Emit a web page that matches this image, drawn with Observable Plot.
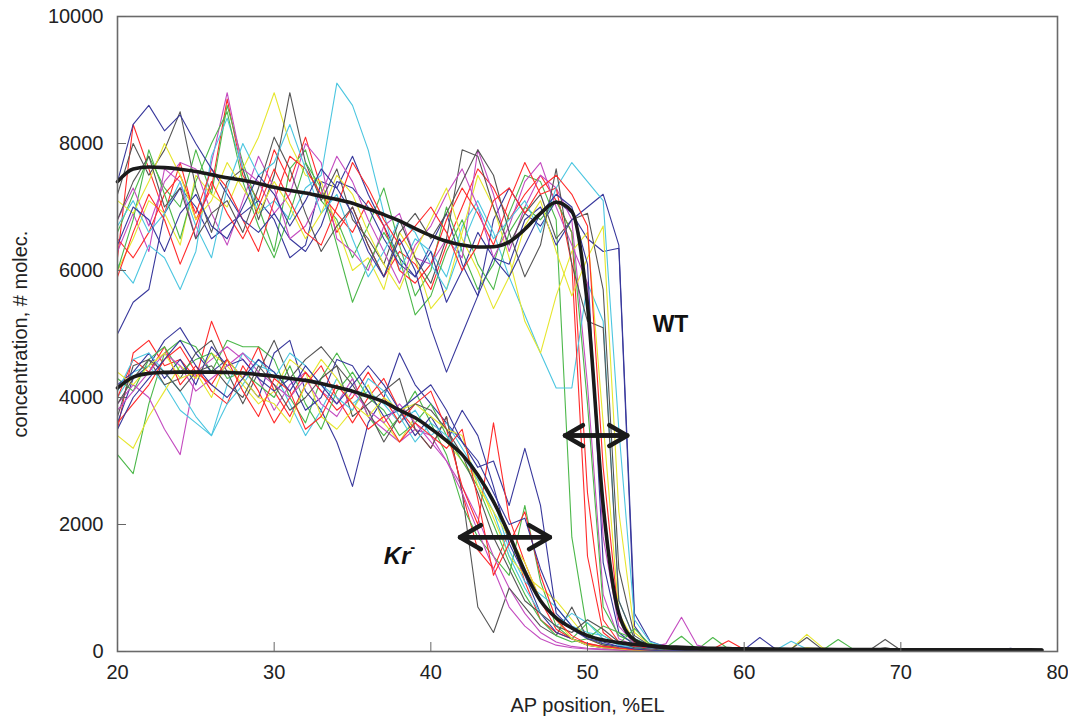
<!DOCTYPE html>
<html><head><meta charset="utf-8">
<script src="https://cdn.jsdelivr.net/npm/d3@7"></script>
<script src="https://cdn.jsdelivr.net/npm/@observablehq/plot@0.6"></script>
<style>body{margin:0;background:#fff;font-family:Arial,"Liberation Sans",sans-serif}</style>
</head><body><div id="chart"></div>
<script>
// AP positions (%EL), one sample per 1 %EL
const positions = [20,21,22,23,24,25,26,27,28,29,30,31,32,33,34,35,36,37,38,39,40,41,42,43,44,45,46,47,48,49,50,51,52,53,54,55,56,57,58,59,60,61,62,63,64,65,66,67,68,69,70,71,72,73,74,75,76,77,78,79];
const xTicks = [20,30,40,50,60,70,80];
const yTicks = [0,2000,4000,6000,8000,10000];
const palette = {red:"#ff2b2b", green:"#4cb84a", blue:"#38389c", magenta:"#c44cc0", cyan:"#4cc6e0", yellow:"#e6e62e", black:"#555555"};

// WT embryos
const wt01 = [6200,8300,7600,6900,7700,6800,7300,8700,7500,7100, 7900,7400,8100,7300,6600,7000,6400,5900,6300,6100, 5700,6400,7000,7600,7300,6800,7200,7500,7100,6600, 2500,500,150,80,40,30,60,20,30,30, 20,10,30,20,10,20,30,10,20,10, 20,10,30,10,20,10,20,10,20,10];
const wt02 = [6600,7200,7800,7300,7000,7900,7200,8600,7700,7000, 6300,7600,7900,7100,6800,6200,6700,7300,6400,5600, 6000,7000,6300,5700,6100,6900,7500,7400,6800,1800, 300,120,60,40,130,60,240,30,220,40, 30,20,10,20,30,20,190,30,10,20, 20,10,20,10,30,10,20,10,30,20];
const wt03 = [5000,5500,5700,6900,7300,7000,6500,6700,6900,7100, 6800,6200,6400,7400,7300,7800,7200,6700,6200,5900, 6400,6900,6100,5600,6800,7300,6900,6700,7100,6900, 6500,6300,6350,400,60,40,30,20,30,20, 30,220,40,20,10,20,10,30,20,10, 20,10,20,30,10,20,10,50,20,10];
const wt04 = [6300,6900,6300,7600,7400,6500,7700,8800,7600,7400, 6900,7200,8000,7700,6500,6300,6000,6700,6900,6200, 6100,6500,6200,7900,7200,6300,7000,7500,7300,6800, 4200,900,200,90,70,120,540,100,40,20, 10,20,30,10,20,10,20,30,10,20, 10,20,10,20,10,30,20,10,20,10];
const wt05 = [6100,5800,6400,6200,5700,6300,7800,8400,7600,6900, 7100,6800,7300,7500,8950,8600,7900,6900,6000,6500, 6300,5900,6700,7100,6600,5900,5300,4700,4150,4150, 5800,5200,800,200,110,60,40,30,20,30, 20,30,40,40,30,20,10,20,30,10, 20,10,20,10,30,20,10,20,10,20];
const wt06 = [6000,6500,7100,6900,6400,7500,7200,7000,7600,8100, 8800,8000,7500,7400,6700,6000,6200,5700,6600,6200, 5400,5700,6600,7500,7000,6200,5200,4700,5600,6300, 6600,3600,600,150,80,40,30,20,30,40, 20,30,20,40,270,60,20,10,20,30, 10,20,10,20,10,20,30,10,20,10];
const wt07 = [7200,8000,7500,7900,8500,7300,6600,7400,7600,6800, 7500,8800,7700,7100,7600,6800,6500,6100,6800,6200, 5800,6500,7900,7800,7000,6400,6900,7200,6500,6800, 6900,5700,1300,250,90,50,30,20,30,20, 30,20,10,40,220,30,20,10,20,190, 20,10,20,10,20,30,10,20,10,20];
const wt08 = [6500,6200,6600,7200,7500,6900,7600,7300,6800,6300, 7100,7800,7600,7200,6900,6600,7100,6700,6000,5800, 6100,6800,7300,6900,6400,7100,7700,7200,7300,6100, 1500,300,100,60,40,30,20,50,40,170, 30,20,10,20,30,10,20,10,20,30, 10,20,10,30,20,10,20,10,20,10];
const wt09 = [6000,6800,7900,7200,6500,7400,8000,8500,7400,6700, 6200,6900,7700,7300,6400,5500,6100,6600,6200,5300, 5600,6300,6800,6100,5700,6600,7000,6800,7100,6600, 3900,700,250,140,100,60,40,30,40,40, 20,30,20,10,20,30,20,10,20,30, 10,20,10,20,10,20,10,30,20,10];
const wt10 = [7400,8300,8600,8200,8450,8000,7600,7200,6800,6600, 6900,6500,6300,6700,7400,7300,7000,6500,6100,5900, 6300,5500,6000,6600,6200,6100,6800,7000,6400,6800, 7000,7200,6400,600,160,70,40,30,20,30, 20,60,40,20,10,20,30,20,10,20, 40,20,10,20,10,20,30,20,10,20];
const wt11 = [6800,7300,6700,7400,7700,7600,6900,6400,7100,7800, 7300,6500,6700,7200,7800,7400,6800,6300,5800,6400, 6700,7200,7600,7000,6200,6700,7400,7700,7000,6400, 5800,1800,400,120,60,40,30,20,30,20, 10,20,30,20,10,20,10,30,20,10, 20,10,30,20,10,20,10,20,30,10];
const wt12 = [6700,7100,6600,6900,7400,6700,6200,7300,8000,7500, 7700,8300,7600,6900,7200,6500,5900,6300,6800,6600, 6100,5700,6400,7000,6500,6800,7100,6600,7300,7700, 7400,7100,3500,500,150,80,40,30,20,30, 20,30,20,160,40,20,10,20,30,10, 20,10,20,30,10,20,10,20,10,20];
const wt13 = [7100,6900,7400,8000,7500,6800,7100,7700,7300,6900, 7400,7000,6500,6900,7500,7200,6600,6100,5700,6300, 6800,7300,6500,6000,5400,5900,6700,7100,6300,5600, 6200,6700,2200,300,100,50,30,20,30,20, 30,20,10,20,60,40,20,10,20,10, 20,30,10,20,10,20,10,30,20,10];
const wt14 = [6800,7400,7800,7000,7300,6500,6900,7100,6600,7300, 8100,7600,6900,6300,6700,7000,6400,5900,6600,6900, 6500,6900,7400,7900,7500,6600,5900,6400,7600,6100, 5200,5100,800,200,70,40,30,20,30,20, 20,10,30,20,10,20,30,10,20,60, 20,10,20,10,30,20,10,20,10,20];
const wt15 = [5900,6600,7200,6800,6100,6700,7400,6900,6500,7000, 7600,7100,6600,6400,7000,7700,7300,6800,6400,6700, 7000,6600,6000,6400,7100,7300,6900,7300,7500,7200, 6700,2900,500,150,70,40,30,20,60,30, 20,10,20,30,10,20,10,20,30,10, 20,10,20,10,30,20,10,20,10,20];
const wt16 = [6400,7000,6800,6300,6900,7200,6700,6500,7000,7500, 7200,6700,7100,7600,7300,6900,6300,5900,6500,6000, 5100,4400,5000,5600,6200,5900,6400,6900,7200,7000, 6100,1400,300,100,60,40,30,20,30,20, 10,20,30,20,10,20,10,20,30,10, 20,10,20,10,20,30,10,20,10,20];

// Kr- embryos
const kr01 = [3500,4700,4900,4500,4600,4300,5200,4600,4300,4800, 4100,3700,4200,4500,4000,3600,4000,4300,3800,3500, 3200,3700,2500,1600,1300,1900,1100,500,300,200, 100,60,40,90,40,20,10,20,10,20, 10,20,10,20,10,20,10,20,10,20, 10,20,10,20,10,20,10,20,10,20];
const kr02 = [3100,2800,3900,4700,4900,4800,4400,4900,4800,4800, 4600,4000,3600,4300,4700,4300,3700,3400,3700,4100, 3600,3100,2300,1800,1500,1200,2300,1100,400,200, 450,250,120,360,110,60,30,20,10,20, 10,20,10,20,10,20,10,20,10,20, 10,20,10,20,10,20,10,20,10,20];
const kr03 = [3600,4300,4500,4900,5100,4700,4400,4600,4300,4000, 4700,4900,4100,3800,3300,2600,3600,4000,4700,4200, 3900,3600,3300,2900,3000,2300,3200,2300,600,350, 200,120,80,60,40,30,20,10,20,10, 20,10,20,10,20,10,20,10,20,10, 20,10,20,10,20,10,20,10,20,10];
const kr04 = [3900,4200,4000,3500,3100,4400,4600,4800,4600,4300, 3800,4200,4400,4100,3900,4300,3700,3500,3300,3500, 3400,3000,2600,2100,1500,1000,600,300,150,80, 50,40,30,20,10,20,10,20,10,20, 10,20,10,20,10,20,10,20,10,20, 10,20,10,20,10,20,10,20,10,20];
const kr05 = [4000,4400,4500,4200,3800,3600,3400,4200,4700,4500, 4400,3900,3400,3800,4300,3900,4100,3900,3600,3800, 3400,3600,3200,2800,2400,1600,1100,900,700,400, 300,250,100,60,40,20,10,20,10,20, 10,20,10,20,10,20,10,20,10,20, 10,20,10,20,10,20,10,20,10,20];
const kr06 = [3400,3200,3700,4100,4500,4300,4700,4500,4200,3900, 4100,4600,4400,3700,3500,3800,4200,3600,3300,3700, 3500,3300,3000,2700,2100,1500,1200,1000,800,500, 200,100,60,40,20,10,20,10,20,10, 20,10,20,10,20,10,20,10,20,10, 20,10,20,10,20,10,20,10,20,10];
const kr07 = [3700,4500,4600,4200,4300,4700,4900,4400,3900,4400, 4900,4300,4600,4800,4500,3700,3900,4100,4300,3500, 3200,3700,2500,700,300,1000,700,400,250,700, 200,100,60,40,20,10,20,10,20,10, 20,10,20,10,20,10,20,10,20,10, 20,10,20,10,20,10,20,10,20,10];
const kr08 = [4000,4600,4400,4800,4200,4500,4100,3900,4500,4100, 3600,4000,4400,4100,3800,4000,4400,4000,3600,3900, 4100,3500,2600,2000,3600,2100,1400,800,350,200, 130,80,50,20,10,20,10,20,10,20, 10,20,10,20,10,20,10,20,10,20, 10,20,10,20,10,20,10,20,10,20];
const kr09 = [4300,4100,4600,4800,4400,4600,4700,4300,4400,4200, 4000,4500,3900,3500,4100,4400,4000,3800,3400,3600, 3900,3400,3000,2600,2000,1400,900,500,250,150, 200,400,300,200,80,40,20,10,20,10, 20,10,20,10,20,10,20,10,20,10, 20,10,20,10,20,10,20,10,20,10];
const kr10 = [4200,4400,4700,4300,4600,4200,4800,4500,4600,4300, 4100,4300,3800,4000,4600,4500,4100,3700,3800,3400, 3700,3300,3800,3400,2600,1700,1200,600,300,200, 100,60,40,20,10,20,10,20,10,20, 10,20,10,20,10,20,10,20,10,20, 10,20,10,20,10,20,10,20,10,20];
const kr11 = [3800,4100,4400,4700,4500,4100,4300,4500,4700,4400, 4200,4000,4300,3900,3700,4100,3800,3600,3900,3600, 3300,3000,2500,1900,1300,700,400,200,100,60, 40,30,20,10,20,10,20,10,20,10, 20,10,20,10,20,10,20,10,20,10, 20,10,20,10,20,10,20,10,20,10];
const kr12 = [4100,4600,4700,4400,4100,3700,3400,3900,4200,4600, 4300,4700,4500,4200,4000,3800,4300,4100,3700,3300, 3600,3400,3100,2700,2200,1500,1000,600,400,600, 450,200,100,60,40,20,10,20,10,20, 10,20,10,20,10,20,10,20,10,20, 10,20,10,20,10,20,10,20,10,20];
const kr13 = [4400,4200,4500,4700,4300,4400,4000,4600,4300,4000, 3900,3600,4200,4600,4300,3900,3700,4000,3800,3900, 3700,3500,3400,2600,2200,1800,1400,800,500,200, 100,60,40,20,10,20,10,20,10,20, 10,20,10,20,10,20,10,20,10,20, 10,20,10,20,10,20,10,20,10,20];
const kr14 = [3900,4300,4600,4400,4100,4400,4500,4200,4000,4500, 4200,3800,4000,4300,4500,4200,3800,3300,3700,3900, 3800,3500,3100,2500,1800,1300,800,600,400,300, 500,350,150,60,40,20,10,20,10,20, 10,20,10,20,10,20,10,20,10,20, 10,20,10,20,10,20,10,20,10,20];
const kr15 = [3600,3900,4200,4600,4800,4400,4200,4600,4100,3700, 4300,4100,3500,3700,4200,3900,3500,3700,3300,3600, 3400,3200,3500,2400,1200,1700,2200,1200,500,250, 120,80,50,30,20,10,20,10,20,10, 20,10,20,10,20,10,20,10,20,10, 20,10,20,10,20,10,20,10,20,10];
const kr16 = [3500,4000,4300,4600,4900,4500,4200,4000,4300,4600, 4400,4100,4500,4200,3900,4200,4500,4200,3800,4000, 4200,3800,3300,3000,2500,2000,2100,1300,700,400, 200,150,80,40,20,10,20,10,20,10, 20,10,20,10,20,10,20,10,20,10, 20,10,20,10,20,10,20,10,20,10];

// Mean profiles
const wtMean = [7400,7600,7630,7620,7595,7560,7510,7460,7420,7370, 7310,7260,7220,7170,7120,7060,6970,6880,6780,6660, 6550,6460,6400,6370,6375,6450,6650,6900,7075,6930, 5450,2300,600,180,90,60,45,40,35,32, 30,30,28,28,27,26,26,25,25,24, 24,23,23,22,22,22,21,21,20,20];
const krMean = [4150,4320,4380,4395,4400,4400,4400,4395,4385,4360, 4335,4300,4270,4220,4160,4100,4020,3930,3800,3680, 3510,3320,3100,2780,2360,1840,1260,800,530,370, 250,180,140,110,90,75,65,55,50,45, 42,40,38,36,34,33,32,31,30,29, 28,28,27,27,26,26,25,25,25,24];

// Annotations
const arrowSpans = [{y:3400, left:48.56, right:52.54}, {y:1800, left:41.86, right:47.6}];
const labelWT = [{x:55.3, y:5140, text:"WT"}];
const labelKr = [{x:37.85, y:1496, text:"Kr"}];
const labelKrSup = [{x:38.85, y:1640, text:"-"}];

const series = [
  ["wt01","red",wt01],["wt02","green",wt02],["wt03","blue",wt03],["wt04","magenta",wt04],
  ["wt05","cyan",wt05],["wt06","yellow",wt06],["wt07","black",wt07],["wt08","red",wt08],
  ["wt09","green",wt09],["wt10","blue",wt10],["wt11","magenta",wt11],["wt12","cyan",wt12],
  ["wt13","yellow",wt13],["wt14","black",wt14],["wt15","red",wt15],["wt16","blue",wt16],
  ["kr01","red",kr01],["kr02","green",kr02],["kr03","blue",kr03],["kr04","magenta",kr04],
  ["kr05","cyan",kr05],["kr06","yellow",kr06],["kr07","black",kr07],["kr08","red",kr08],
  ["kr09","green",kr09],["kr10","blue",kr10],["kr11","magenta",kr11],["kr12","cyan",kr12],
  ["kr13","yellow",kr13],["kr14","black",kr14],["kr15","red",kr15],["kr16","blue",kr16]
];
const rows = series.flatMap(([id, c, vals]) => vals.map((v, i) => ({x: positions[i], y: v, id, color: palette[c]})));
const meanRows = [["WT", wtMean], ["Kr", krMean]].flatMap(([id, vals]) => vals.map((v, i) => ({x: positions[i], y: v, id})));

const font = "Arial, 'Liberation Sans', sans-serif";
const chart = Plot.plot({
  width: 1068, height: 717,
  marginTop: 16, marginRight: 11, marginBottom: 66, marginLeft: 117,
  x: {domain: [20, 80]},
  y: {domain: [0, 10000]},
  color: {type: "identity"},
  style: {fontFamily: font, background: "#fff", color: "#222"},
  marks: [
    Plot.line(rows, {x: "x", y: "y", z: "id", stroke: "color", strokeWidth: 1.1}),
    Plot.line(meanRows, {x: "x", y: "y", z: "id", stroke: "#1a1a1a", strokeWidth: 3.6, curve: "monotone-x"}),
    Plot.arrow(arrowSpans, {x1: "left", x2: "right", y1: "y", y2: "y", stroke: "#1a1a1a", strokeWidth: 4.5, headLength: 8}),
    Plot.arrow(arrowSpans, {x1: "right", x2: "left", y1: "y", y2: "y", stroke: "#1a1a1a", strokeWidth: 4.5, headLength: 8}),
    Plot.text(labelWT, {x: "x", y: "y", text: "text", fontSize: 23, fontWeight: "bold", fill: "#111", textAnchor: "middle", lineAnchor: "middle"}),
    Plot.text(labelKr, {x: "x", y: "y", text: "text", fontSize: 24, fontWeight: "bold", fontStyle: "italic", fill: "#111", textAnchor: "middle", lineAnchor: "middle"}),
    Plot.text(labelKrSup, {x: "x", y: "y", text: "text", fontSize: 15, fontWeight: "bold", fill: "#111", textAnchor: "middle", lineAnchor: "middle"}),
    Plot.frame({stroke: "#6a6a6a", strokeWidth: 1.6}),
    Plot.axisX({ticks: xTicks, tickSize: -9, tickPadding: 22, fontSize: 20, stroke: "#666", fill: "#222",
      label: "AP position, %EL", labelAnchor: "center", labelArrow: "none", labelOffset: 60}),
    Plot.axisY({ticks: yTicks, tickSize: -9, tickPadding: 23, fontSize: 20, stroke: "#666", fill: "#222",
      tickFormat: d => String(d),
      label: "concentration, # molec.", labelAnchor: "center", labelArrow: "none", labelOffset: 105})
  ]
});
document.getElementById("chart").appendChild(chart);
</script>
</body></html>
